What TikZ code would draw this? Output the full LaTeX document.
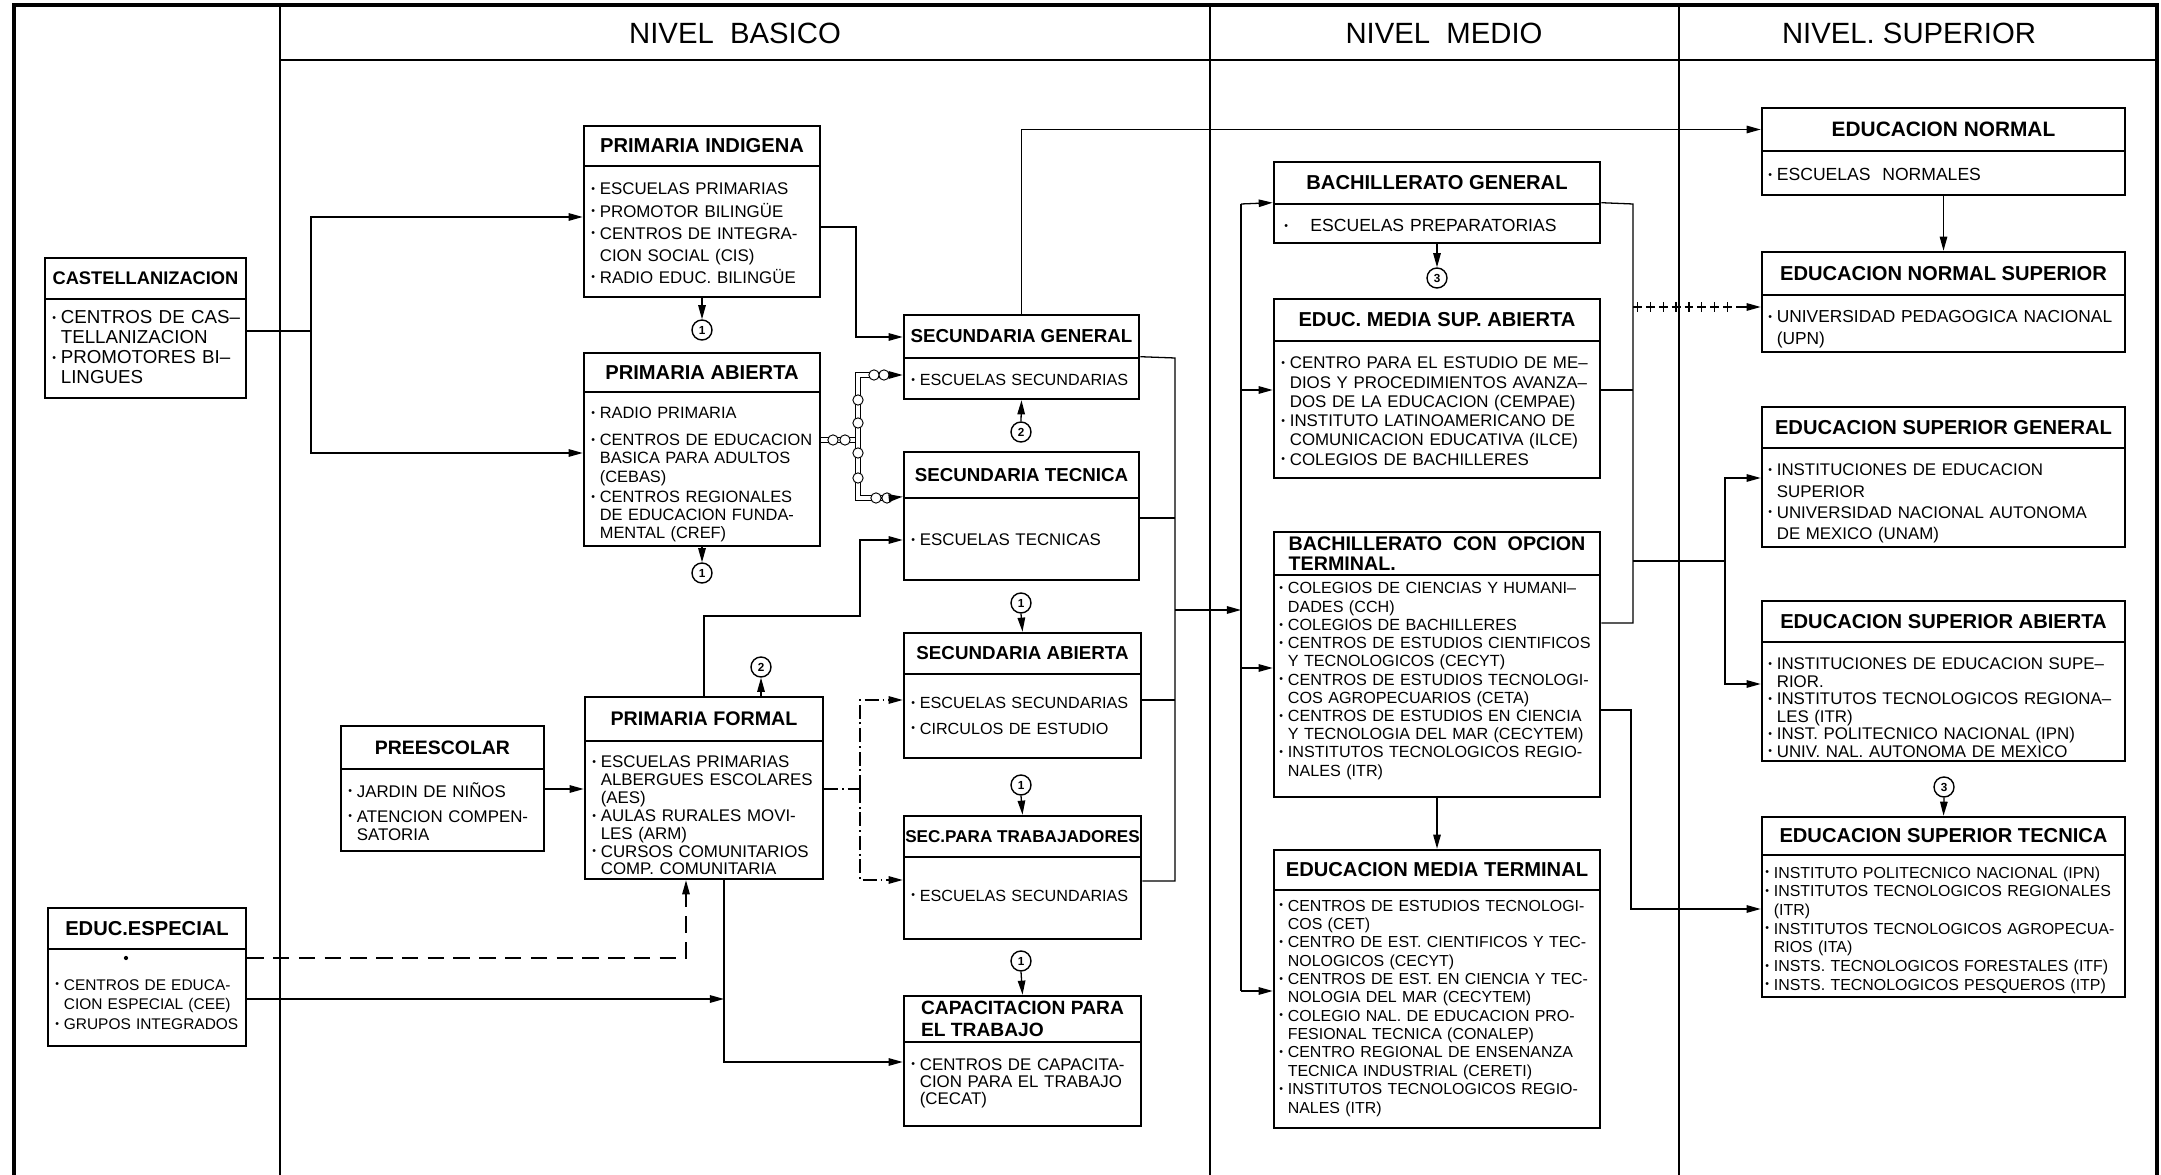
\documentclass[tikz,border=0pt]{standalone}
\usepackage{fontspec}
\setmainfont{Liberation Sans}
\usetikzlibrary{arrows.meta,fit,decorations.markings}
\newcommand{\dotitem}{\raisebox{1pt}{\fontsize{4.5}{4.5}\selectfont\textbullet}\hspace{2pt}}
\newcommand{\ind}{\phantom{\dotitem}}
\begin{document}
\begin{tikzpicture}[x=0.015cm,y=-0.015cm,
    frm/.style={draw,line width=1.1pt,inner sep=0pt},
    ttl/.style={inner sep=0pt,font=\fontsize{8.6}{9.4}\selectfont\bfseries,align=left},
    it/.style 2 args={inner sep=0pt,anchor=base west,text width=6cm,align=left,font=\fontsize{#1}{#2}\selectfont},
    lvl/.style={draw,line width=0.9pt,inner sep=0pt},
    lvlt/.style={inner sep=0pt,font=\fontsize{12.5}{15}\selectfont},
    circ/.style={draw,circle,inner sep=0pt,minimum size=0.3cm,line width=0.6pt,font=\fontsize{5}{5}\selectfont\bfseries},
    ln/.style={line width=0.55pt},
    arr/.style={ln,-{Triangle[length=6pt,width=3.2pt]}},
    dd/.style={dash pattern=on 6pt off 1.6pt on 0.8pt off 1.6pt},
    dsh/.style={dash pattern=on 7pt off 4pt},
    chn/.style={double,double distance=1.6pt,line width=0.4pt},
    tck/.style={decorate,decoration={markings,mark=between positions 0.04 and 0.97 step 5.5pt with {\draw[line width=0.5pt] (0pt,-2pt) -- (0pt,2pt);}}}]
\useasboundingbox (0,0) rectangle (2161,1175);
\node[lvl,fit={(280,5)(1210,60)}] (basico) {};
\node[lvl,fit={(1210,5)(1679,60)}] (medio) {};
\node[lvl,fit={(1679,5)(2157,60)}] (superior) {};
\node[lvlt] (basicot) at (735,33) {NIVEL\ \ BASICO};
\node[lvlt] (mediot) at (1444,33) {NIVEL\ \ MEDIO};
\node[lvlt] (superiort) at (1909,33) {NIVEL.\ SUPERIOR};
\draw[line width=1.8pt] (14,1175) -- (14,5) -- (2157,5) -- (2157,1175);
\draw[line width=0.5pt] (280,60) -- (280,1175) (1210,60) -- (1210,1175) (1679,60) -- (1679,1175);

\node[frm,fit={(45,258)(246,299)}] (cast) {};
\node[ttl,font=\fontsize{7.8}{8.6}\selectfont\bfseries] (castt) at (cast) {CASTELLANIZACION};
\node[frm,fit={(45,299)(246,398)}] (castb) {};
\node[it={8}{8.5}] (castx) at (52,324) {\dotitem CENTROS DE CAS--\\\ind TELLANIZACION\\\dotitem PROMOTORES BI--\\\ind LINGUES};

\node[frm,fit={(584,126)(820,166)}] (pi) {};
\node[ttl] (pit) at (pi) {PRIMARIA INDIGENA};
\node[frm,fit={(584,166)(820,297)}] (pib) {};
\node[it={7.2}{9.4}] (pix) at (591,195) {\dotitem ESCUELAS PRIMARIAS\\\dotitem PROMOTOR BILINGÜE\\\dotitem CENTROS DE INTEGRA-\\\ind CION SOCIAL (CIS)\\\dotitem RADIO EDUC. BILINGÜE};

\node[frm,fit={(584,353)(820,392)}] (pa) {};
\node[ttl] (pat) at (pa) {PRIMARIA ABIERTA};
\node[frm,fit={(584,392)(820,546)}] (pab) {};
\node[it={7}{7.7}] (pax) at (591,419) {\dotitem RADIO PRIMARIA\\[3.8pt]\dotitem CENTROS DE EDUCACION\\\ind BASICA PARA ADULTOS\\\ind (CEBAS)\\[1pt]\dotitem CENTROS REGIONALES\\\ind DE EDUCACION FUNDA-\\\ind MENTAL (CREF)};

\node[frm,fit={(904,315)(1139,358)}] (sg) {};
\node[ttl,font=\fontsize{8}{8.6}\selectfont\bfseries] (sgt) at (sg) {SECUNDARIA GENERAL};
\node[frm,fit={(904,358)(1139,399)}] (sgb) {};
\node[it={6.9}{8}] (sgx) at (911,386) {\dotitem ESCUELAS SECUNDARIAS};

\node[frm,fit={(904,452)(1139,498)}] (st) {};
\node[ttl,font=\fontsize{8}{8.6}\selectfont\bfseries] (stt) at (st) {SECUNDARIA TECNICA};
\node[frm,fit={(904,498)(1139,580)}] (stb) {};
\node[it={7.2}{8}] (stx) at (911,546) {\dotitem ESCUELAS TECNICAS};

\node[frm,fit={(904,633)(1141,674)}] (sa) {};
\node[ttl,font=\fontsize{8}{8.6}\selectfont\bfseries] (sat) at (sa) {SECUNDARIA ABIERTA};
\node[frm,fit={(904,674)(1141,758)}] (sab) {};
\node[it={6.9}{10.7}] (sax) at (911,709) {\dotitem ESCUELAS SECUNDARIAS\\\dotitem CIRCULOS DE ESTUDIO};

\node[frm,fit={(904,816)(1141,857)}] (spt) {};
\node[ttl,font=\fontsize{7.3}{8}\selectfont\bfseries] (sptt) at (spt) {SEC.PARA TRABAJADORES};
\node[frm,fit={(904,857)(1141,939)}] (sptb) {};
\node[it={6.9}{8}] (sptx) at (911,901) {\dotitem ESCUELAS SECUNDARIAS};

\node[frm,fit={(904,996)(1141,1042)}] (cap) {};
\node[ttl,font=\fontsize{8.2}{9.6}\selectfont\bfseries] (capt) at (cap) {CAPACITACION PARA\\EL TRABAJO};
\node[frm,fit={(904,1042)(1141,1126)}] (capb) {};
\node[it={7.2}{7.3}] (capx) at (911,1070) {\dotitem CENTROS DE CAPACITA-\\\ind CION PARA EL TRABAJO\\\ind (CECAT)};

\node[frm,fit={(341,726)(544,769)}] (pre) {};
\node[ttl,font=\fontsize{8.3}{9}\selectfont\bfseries] (pret) at (pre) {PREESCOLAR};
\node[frm,fit={(341,769)(544,851)}] (preb) {};
\node[it={7.2}{7.7}] (prex) at (348,797) {\dotitem JARDIN DE NIÑOS\\[3pt]\dotitem ATENCION COMPEN-\\\ind SATORIA};

\node[frm,fit={(585,697)(823,741)}] (pf) {};
\node[ttl,font=\fontsize{8.4}{9}\selectfont\bfseries] (pft) at (pf) {PRIMARIA FORMAL};
\node[frm,fit={(585,741)(823,879)}] (pfb) {};
\node[it={7.2}{7.6}] (pfx) at (592,768) {\dotitem ESCUELAS PRIMARIAS\\\ind ALBERGUES ESCOLARES\\\ind (AES)\\\dotitem AULAS RURALES MOVI-\\\ind LES (ARM)\\\dotitem CURSOS COMUNITARIOS\\\ind COMP. COMUNITARIA};

\node[frm,fit={(48,908)(246,949)}] (ee) {};
\node[ttl] (eet) at (ee) {EDUC.ESPECIAL};
\node[frm,fit={(48,949)(246,1046)}] (eeb) {};
\fill (126,958) circle (0.9pt);
\node[it={6.6}{8.5}] (eex) at (55,990) {\dotitem CENTROS DE EDUCA-\\\ind CION ESPECIAL (CEE)\\\dotitem GRUPOS INTEGRADOS};

\node[frm,fit={(1274,162)(1600,204)}] (bg) {};
\node[ttl] (bgt) at (bg) {BACHILLERATO GENERAL};
\node[frm,fit={(1274,204)(1600,243)}] (bgb) {};
\node[it={7.5}{8}] (bgx) at (1284,232) {\dotitem\quad ESCUELAS PREPARATORIAS};

\node[frm,fit={(1274,299)(1600,341)}] (emsa) {};
\node[ttl] (emsat) at (emsa) {EDUC. MEDIA SUP. ABIERTA};
\node[frm,fit={(1274,341)(1600,478)}] (emsab) {};
\node[it={7.2}{8.2}] (emsax) at (1281,369) {\dotitem CENTRO PARA EL ESTUDIO DE ME--\\\ind DIOS Y PROCEDIMIENTOS AVANZA--\\\ind DOS DE LA EDUCACION (CEMPAE)\\\dotitem INSTITUTO LATINOAMERICANO DE\\\ind COMUNICACION EDUCATIVA (ILCE)\\\dotitem COLEGIOS DE BACHILLERES};

\node[frm,fit={(1274,532)(1600,575)}] (bcot) {};
\node[ttl,font=\fontsize{8.4}{8.7}\selectfont\bfseries] (bcott) at (bcot) {BACHILLERATO\ \ CON\ \ OPCION\\TERMINAL.};
\node[frm,fit={(1274,575)(1600,797)}] (bcotb) {};
\node[it={6.9}{7.77}] (bcotx) at (1279,594) {\dotitem COLEGIOS DE CIENCIAS Y HUMANI--\\\ind DADES (CCH)\\\dotitem COLEGIOS DE BACHILLERES\\\dotitem CENTROS DE ESTUDIOS CIENTIFICOS\\\ind Y TECNOLOGICOS (CECYT)\\\dotitem CENTROS DE ESTUDIOS TECNOLOGI-\\\ind COS AGROPECUARIOS (CETA)\\\dotitem CENTROS DE ESTUDIOS EN CIENCIA\\\ind Y TECNOLOGIA DEL MAR (CECYTEM)\\\dotitem INSTITUTOS TECNOLOGICOS REGIO-\\\ind NALES (ITR)};

\node[frm,fit={(1274,850)(1600,890)}] (emt) {};
\node[ttl] (emtt) at (emt) {EDUCACION MEDIA TERMINAL};
\node[frm,fit={(1274,890)(1600,1128)}] (emtb) {};
\node[it={6.8}{7.84}] (emtx) at (1279,911) {\dotitem CENTROS DE ESTUDIOS TECNOLOGI-\\\ind COS (CET)\\\dotitem CENTRO DE EST. CIENTIFICOS Y TEC-\\\ind NOLOGICOS (CECYT)\\\dotitem CENTROS DE EST. EN CIENCIA Y TEC-\\\ind NOLOGIA DEL MAR (CECYTEM)\\\dotitem COLEGIO NAL. DE EDUCACION PRO-\\\ind FESIONAL TECNICA (CONALEP)\\\dotitem CENTRO REGIONAL DE ENSENANZA\\\ind TECNICA INDUSTRIAL (CERETI)\\\dotitem INSTITUTOS TECNOLOGICOS REGIO-\\\ind NALES (ITR)};

\node[frm,fit={(1762,108)(2125,151)}] (en) {};
\node[ttl,font=\fontsize{8.9}{9.4}\selectfont\bfseries] (ent) at (en) {EDUCACION NORMAL};
\node[frm,fit={(1762,151)(2125,195)}] (enb) {};
\node[it={7.5}{8}] (enx) at (1768,181) {\dotitem ESCUELAS\ \ NORMALES};

\node[frm,fit={(1762,252)(2125,295)}] (ens) {};
\node[ttl] (enst) at (ens) {EDUCACION NORMAL SUPERIOR};
\node[frm,fit={(1762,295)(2125,352)}] (ensb) {};
\node[it={7.4}{9}] (ensx) at (1768,323) {\dotitem UNIVERSIDAD PEDAGOGICA NACIONAL\\\ind (UPN)};

\node[frm,fit={(1762,407)(2125,448)}] (esg) {};
\node[ttl] (esgt) at (esg) {EDUCACION SUPERIOR GENERAL};
\node[frm,fit={(1762,448)(2125,547)}] (esgb) {};
\node[it={7.2}{9}] (esgx) at (1768,476) {\dotitem INSTITUCIONES DE EDUCACION\\\ind SUPERIOR\\\dotitem UNIVERSIDAD NACIONAL AUTONOMA\\\ind DE MEXICO (UNAM)};

\node[frm,fit={(1762,601)(2125,642)}] (esa) {};
\node[ttl] (esat) at (esa) {EDUCACION SUPERIOR ABIERTA};
\node[frm,fit={(1762,642)(2125,761)}] (esab) {};
\node[it={7.2}{7.43}] (esax) at (1768,670) {\dotitem INSTITUCIONES DE EDUCACION SUPE--\\\ind RIOR.\\\dotitem INSTITUTOS TECNOLOGICOS REGIONA--\\\ind LES (ITR)\\\dotitem INST. POLITECNICO NACIONAL (IPN)\\\dotitem UNIV. NAL. AUTONOMA DE MEXICO};

\node[frm,fit={(1762,817)(2125,855)}] (est) {};
\node[ttl] (estt) at (est) {EDUCACION SUPERIOR TECNICA};
\node[frm,fit={(1762,855)(2125,997)}] (estb) {};
\node[it={6.8}{7.97}] (estx) at (1765,878) {\dotitem INSTITUTO POLITECNICO NACIONAL (IPN)\\\dotitem INSTITUTOS TECNOLOGICOS REGIONALES\\\ind (ITR)\\\dotitem INSTITUTOS TECNOLOGICOS AGROPECUA-\\\ind RIOS (ITA)\\\dotitem INSTS. TECNOLOGICOS FORESTALES (ITF)\\\dotitem INSTS. TECNOLOGICOS PESQUEROS (ITP)};

\node[circ] (c1a) at (702,330) {1};
\node[circ] (c1b) at (702,573) {1};
\node[circ] (c2a) at (1021,432) {2};
\node[circ] (c1c) at (1021,603) {1};
\node[circ] (c1d) at (1021,785) {1};
\node[circ] (c1e) at (1021,961) {1};
\node[circ] (c2b) at (761,667) {2};
\node[circ] (c3a) at (1437,278) {3};
\node[circ] (c3b) at (1944,787) {3};

\coordinate (jc) at (311,331);
\draw[ln] (castb.east|-jc) -- (jc);
\draw[arr] (jc) |- (pib.west|-0,217);
\draw[arr] (jc) |- (pab.west|-0,453);
\draw[arr] (pib.east|-0,227) -- (856,227) |- (sg.west|-0,337);
\draw[arr] (pib.south) -- (c1a.north);
\draw[arr] (pab.south) -- (c1b.north);
\draw[chn] (pab.east|-0,440) -- (858,440);
\draw[chn] (890,375) -- (858,375) -- (858,498) -- (890,498);
\draw[line width=0.4pt,fill=white] (833,440) circle (2.2pt) (845,440) circle (2.2pt) (858,400) circle (2.2pt) (858,423) circle (2.2pt) (858,453) circle (2.2pt) (858,478) circle (2.2pt) (874,375) circle (2.2pt) (884,375) circle (2.2pt) (876,498) circle (2.2pt) (887,498) circle (2.2pt);
\draw[arr] (890,375) -- (sgb.west|-0,375);
\draw[arr] (890,498) -- (stb.north west);
\draw[arr] (sg.north) |- (en.west);
\draw[arr] (c2a.north) -- (sgb.south);
\draw[ln] (sgb.north east) -- (1175,358) -- (1175,881) -- (sptb.east|-0,881);
\draw[ln] (stb.east|-0,518) -- (1175,518);
\draw[ln] (sab.east|-0,700) -- (1175,700);
\draw[arr] (1175,610) -- (1241,610);
\draw[arr] (c1c.south) -- (sa.north);
\draw[arr] (c1d.south) -- (spt.north);
\draw[arr] (c1e.south) -- (cap.north);
\draw[arr] (pf.north) |- (860,616) |- (stb.west|-0,540);
\draw[arr] (pf.north-|c2b) -- (c2b.south);
\draw[arr] (preb.east|-0,789) -- (pfb.west|-0,789);
\draw[ln,dd] (pfb.east|-0,789) -- (860,789);
\draw[arr,dd] (860,789) |- (sab.west|-0,700);
\draw[arr,dd] (860,789) |- (sptb.west|-0,880);
\draw[arr,dsh] (eeb.east|-0,958) -| (pfb.south-|686,0);
\draw[arr] (eeb.east|-0,999) -- (724,999);
\draw[arr] (pfb.south-|724,0) |- (capb.west|-0,1062);

\draw[ln] (1241,204) -- (1241,991);
\draw[arr] (1241,204) -- (bgb.north west);
\draw[arr] (1241,390) -- (emsab.west|-0,390);
\draw[arr] (1241,668) -- (bcotb.west|-0,668);
\draw[arr] (1241,991) -- (emtb.west|-0,991);
\draw[arr] (bgb.south) -- (c3a.north);
\draw[arr] (bcotb.south) -- (emt.north);
\draw[ln] (bgb.north east) -- (1633,204) -- (1633,623) -- (bcotb.east|-0,623);
\draw[ln] (emsab.east|-0,390) -- (1633,390);
\draw[ln,dash pattern=on 3.8pt off 1.7pt] (1633,307) -- (1742,307);
\path[tck] (1633,307) -- (1742,307);
\draw[arr] (1742,307) -- (ensb.west|-0,307);
\draw[ln] (1633,561) -- (1725,561);
\draw[arr] (1725,561) |- (esgb.west|-0,478);
\draw[arr] (1725,561) |- (esab.west|-0,684);
\draw[arr] (bcotb.east|-0,710) -- (1631,710) |- (estb.west|-0,909);
\draw[arr] (enb.south) -- (ens.north);
\draw[arr] (c3b.south) -- (est.north);
\end{tikzpicture}
\end{document}
